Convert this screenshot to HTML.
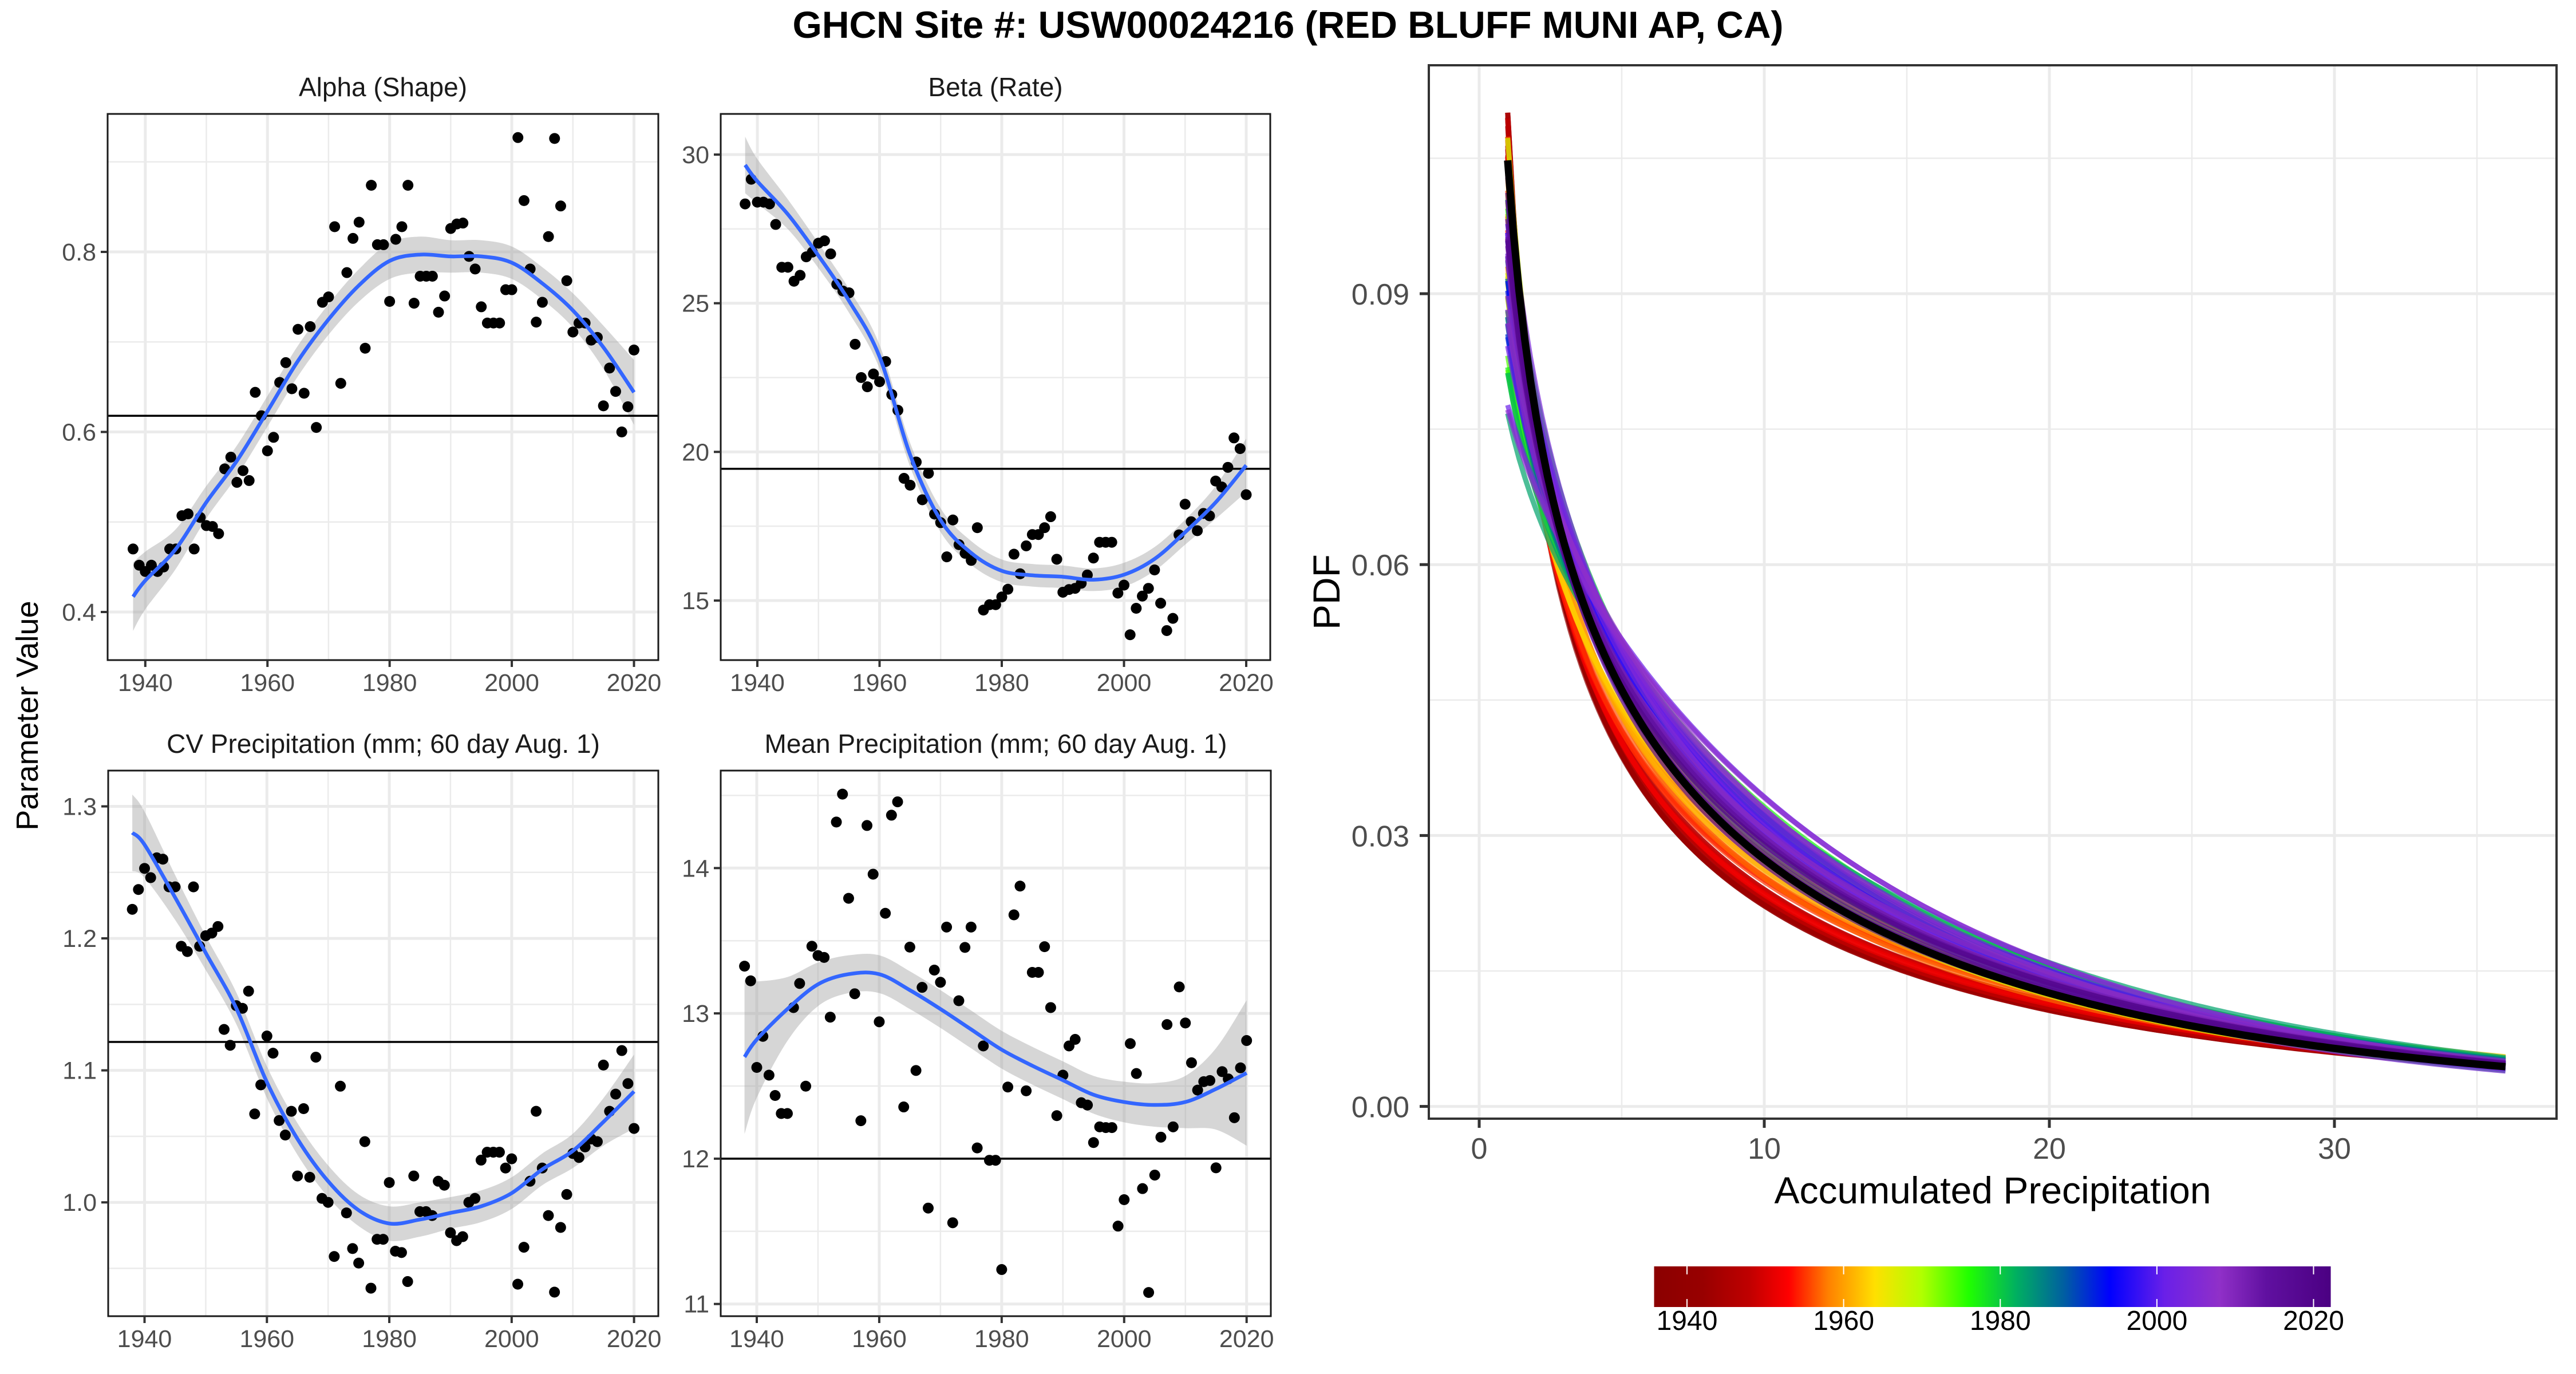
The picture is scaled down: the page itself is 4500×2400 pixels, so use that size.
<!DOCTYPE html>
<html><head><meta charset="utf-8"><style>
html,body{margin:0;padding:0;background:#fff;}
svg{display:block;font-family:"Liberation Sans",sans-serif;}
</style></head><body>
<svg id="fig" width="4500" height="2400" viewBox="0 0 4500 2400" xmlns="http://www.w3.org/2000/svg">
<rect width="4500" height="2400" fill="#fff"/>
<text x="2250" y="66" text-anchor="middle" font-size="66" font-weight="bold" fill="#000">GHCN Site #: USW00024216 (RED BLUFF MUNI AP, CA)</text>
<text transform="translate(66,1250) rotate(-90)" text-anchor="middle" font-size="54" fill="#000">Parameter Value</text>
<g id="panels"></g>
<g id="pdfpanel"></g>
</svg>
<script>
// ---------- DATA ----------
const years = [];
for (let y = 1938; y <= 2020; y++) years.push(y);
const alphaVals = [0.470,0.452,0.445,0.452,0.445,0.450,0.470,0.470,0.507,0.509,0.470,0.505,0.496,0.495,0.487,0.559,0.572,0.544,0.557,0.546,0.644,0.618,0.579,0.594,0.655,0.677,0.648,0.714,0.643,0.717,0.605,0.744,0.750,0.828,0.654,0.777,0.815,0.833,0.693,0.874,0.808,0.808,0.745,0.814,0.828,0.874,0.743,0.773,0.773,0.773,0.733,0.751,0.826,0.831,0.832,0.795,0.781,0.739,0.721,0.721,0.721,0.758,0.758,0.927,0.857,0.781,0.722,0.744,0.817,0.926,0.851,0.768,0.711,0.721,0.721,0.702,0.705,0.629,0.671,0.645,0.600,0.628,0.691];
const betaVals = [28.34,29.17,28.4,28.4,28.34,27.65,26.21,26.21,25.74,25.94,26.56,26.72,27.02,27.1,26.66,25.64,25.41,25.35,23.62,22.5,22.19,22.62,22.36,23.04,21.93,21.4,19.11,18.88,19.66,18.39,19.28,17.91,17.62,16.47,17.71,16.88,16.59,16.35,17.45,14.68,14.86,14.86,15.12,15.38,16.56,15.9,16.84,17.22,17.22,17.45,17.82,16.39,15.28,15.37,15.41,15.58,15.86,16.43,16.96,16.96,16.96,15.25,15.52,13.85,14.74,15.15,15.41,16.03,14.91,13.99,14.4,17.21,18.24,17.65,17.35,17.93,17.85,19.02,18.82,19.48,20.47,20.11,18.56];
const cvVals = [1.222,1.237,1.253,1.246,1.261,1.260,1.239,1.239,1.194,1.190,1.239,1.194,1.202,1.204,1.209,1.131,1.119,1.149,1.147,1.160,1.067,1.089,1.126,1.113,1.062,1.051,1.069,1.020,1.071,1.019,1.110,1.003,1.000,0.959,1.088,0.992,0.965,0.954,1.046,0.935,0.972,0.972,1.015,0.963,0.962,0.940,1.020,0.993,0.993,0.990,1.016,1.013,0.977,0.971,0.974,1.000,1.003,1.032,1.038,1.038,1.038,1.026,1.033,0.938,0.966,1.016,1.069,1.026,0.990,0.932,0.981,1.006,1.037,1.034,1.042,1.048,1.046,1.104,1.069,1.082,1.115,1.090,1.056];
const meanVals = [13.325,13.224,12.628,12.842,12.575,12.435,12.311,12.311,13.040,13.206,12.499,13.462,13.398,13.385,12.974,14.317,14.509,13.792,13.135,12.261,14.293,13.958,12.942,13.689,14.364,14.456,12.356,13.456,12.607,13.179,11.660,13.298,13.214,13.594,11.559,13.087,13.454,13.594,12.074,12.776,11.989,11.989,11.237,12.493,13.678,13.876,12.467,13.282,13.282,13.459,13.040,12.296,12.575,12.776,12.821,12.385,12.369,12.111,12.219,12.214,12.214,11.536,11.718,12.792,12.586,11.794,11.079,11.887,12.148,12.923,12.219,13.182,12.934,12.660,12.472,12.530,12.538,11.937,12.599,12.549,12.282,12.625,12.813];
// loess fits and SE half-widths
const fitYears = [1938,1940,1945,1950,1955,1960,1965,1970,1975,1980,1985,1990,1995,2000,2005,2010,2015,2020];
const alphaFit = [0.417,0.435,0.470,0.522,0.568,0.623,0.679,0.725,0.763,0.790,0.797,0.795,0.795,0.788,0.765,0.735,0.694,0.644];
const alphaSE  = [0.038,0.032,0.022,0.018,0.017,0.017,0.017,0.017,0.018,0.020,0.020,0.018,0.018,0.018,0.018,0.019,0.024,0.036];
const betaFit  = [29.65,29.1,27.99,26.6,25.08,23.2,19.9,17.7,16.6,16.0,15.85,15.8,15.7,15.87,16.4,17.3,18.3,19.55];
const betaSE   = [0.95,0.75,0.5,0.42,0.4,0.4,0.4,0.4,0.4,0.38,0.38,0.38,0.38,0.4,0.4,0.42,0.55,0.9];
const cvFit    = [1.280,1.271,1.231,1.189,1.147,1.091,1.048,1.016,0.994,0.984,0.987,0.992,0.997,1.007,1.025,1.039,1.061,1.084];
const cvSE     = [0.029,0.025,0.017,0.013,0.012,0.012,0.012,0.012,0.012,0.013,0.013,0.012,0.012,0.012,0.012,0.013,0.018,0.028];
const meanFit  = [12.70,12.82,13.03,13.20,13.27,13.27,13.16,13.03,12.89,12.75,12.64,12.54,12.44,12.39,12.37,12.39,12.48,12.59];
const meanSE   = [0.53,0.40,0.22,0.15,0.13,0.13,0.13,0.13,0.13,0.13,0.13,0.13,0.13,0.14,0.15,0.18,0.28,0.50];
// reference horizontal lines (overall parameter values)
const alphaRef = 0.618, betaRef = 19.43, cvRef = 1.1215, meanRef = 12.0;
// tick labels
const yearTicks = [1940,1960,1980,2000,2020];
const alphaTicks = [0.4,0.6,0.8];
const betaTicks = [15,20,25,30];
const cvTicks = [1.0,1.1,1.2,1.3];
const meanTicks = [11,12,13,14];
const pdfXTicks = [0,10,20,30];
const pdfYTicks = [0.00,0.03,0.06,0.09];
const cbarTicks = [1940,1960,1980,2000,2020];
const cbarColors = [[1936,'#8b0000'],[1942,'#980000'],[1948,'#c00000'],[1953,'#ff0000'],[1958,'#ff8000'],[1964,'#ffe000'],[1970,'#b0ff00'],[1976,'#20ff00'],[1982,'#00b060'],[1988,'#0060a0'],[1994,'#0000ff'],[2001,'#6a20e8'],[2008,'#9030c8'],[2014,'#6010a0'],[2023,'#4b0082']];

// ---------- HELPERS ----------
const NS = 'http://www.w3.org/2000/svg';
function mk(tag, attrs, parent) {
  const e = document.createElementNS(NS, tag);
  for (const k in attrs) e.setAttribute(k, attrs[k]);
  parent.appendChild(e);
  return e;
}
function lin(d0, d1, r0, r1) { return v => r0 + (v - d0) * (r1 - r0) / (d1 - d0); }
function smoothPath(pts) {
  let d = 'M' + pts[0][0].toFixed(1) + ',' + pts[0][1].toFixed(1);
  for (let i = 0; i < pts.length - 1; i++) {
    const p0 = pts[Math.max(0, i - 1)], p1 = pts[i], p2 = pts[i + 1], p3 = pts[Math.min(pts.length - 1, i + 2)];
    const c1 = [p1[0] + (p2[0] - p0[0]) / 6, p1[1] + (p2[1] - p0[1]) / 6];
    const c2 = [p2[0] - (p3[0] - p1[0]) / 6, p2[1] - (p3[1] - p1[1]) / 6];
    d += ' C' + c1[0].toFixed(1) + ',' + c1[1].toFixed(1) + ' ' + c2[0].toFixed(1) + ',' + c2[1].toFixed(1) + ' ' + p2[0].toFixed(1) + ',' + p2[1].toFixed(1);
  }
  return d;
}
function smoothSeg(pts) { return smoothPath(pts).slice(1); }

const panelsG = document.getElementById('panels');

function drawPanel(cfg) {
  const g = mk('g', {}, panelsG);
  
  
  const X = lin(1940, 2020, cfg.x1940, cfg.x2020);
  const Y = lin(cfg.yv0, cfg.yv1, cfg.yp0, cfg.yp1);
  const L = cfg.box[0], T = cfg.box[1], R = cfg.box[2], B = cfg.box[3];
  const st = mk('text', { x: (L + R) / 2, y: T - 31, 'text-anchor': 'middle', 'font-size': 46, fill: '#1a1a1a' }, g);
  st.textContent = cfg.title;
  
  
  const clip = mk('clipPath', { id: 'clip-' + cfg.name }, g);
  mk('rect', { x: L, y: T, width: R - L, height: B - T }, clip);
  const inner = mk('g', { 'clip-path': 'url(#clip-' + cfg.name + ')' }, g);
  for (let yr = 1930; yr <= 2030; yr += 20) {
    const l = mk('line', { x1: X(yr), x2: X(yr), y1: T, y2: B, stroke: '#ebebeb', 'stroke-width': 2.5 }, inner);
    
    
  }
  const tk = cfg.ticks, step = tk[1] - tk[0];
  for (let i = -1; i < tk.length; i++) {
    const v = tk[0] + step * (i + 0.5);
    const l = mk('line', { x1: L, x2: R, y1: Y(v), y2: Y(v), stroke: '#ebebeb', 'stroke-width': 2.5 }, inner);
    
    
  }
  yearTicks.forEach(yr => {
    const l = mk('line', { x1: X(yr), x2: X(yr), y1: T, y2: B, stroke: '#ebebeb', 'stroke-width': 5 }, inner);
    
    
  });
  tk.forEach(v => {
    const l = mk('line', { x1: L, x2: R, y1: Y(v), y2: Y(v), stroke: '#ebebeb', 'stroke-width': 5 }, inner);
    
    
  });
  const up = cfg.fitYears.map((yr, i) => [X(yr), Y(cfg.fit[i] + cfg.se[i])]);
  const lo = cfg.fitYears.map((yr, i) => [X(yr), Y(cfg.fit[i] - cfg.se[i])]).reverse();
  const rib = mk('path', { d: smoothPath(up) + ' L' + smoothSeg(lo) + ' Z', fill: '#999999', 'fill-opacity': 0.4 }, inner);
  
  
  const hl = mk('line', { x1: L, x2: R, y1: Y(cfg.ref), y2: Y(cfg.ref), stroke: '#000', 'stroke-width': 3.5 }, inner);
  
  
  cfg.vals.forEach((v, i) => {
    const c = mk('circle', { cx: X(years[i]), cy: Y(v), r: 9.5, fill: '#000' }, inner);
    
    
  });
  const fl = mk('path', { d: smoothPath(cfg.fitYears.map((yr, i) => [X(yr), Y(cfg.fit[i])])), fill: 'none', stroke: '#3366ff', 'stroke-width': 6.5 }, inner);
  
  
  const bd = mk('rect', { x: L, y: T, width: R - L, height: B - T, fill: 'none', stroke: '#1a1a1a', 'stroke-width': 3 }, g);
  
  
  yearTicks.forEach(yr => {
    const t = mk('line', { x1: X(yr), x2: X(yr), y1: B, y2: B + 12, stroke: '#333', 'stroke-width': 4 }, g);
    
    
    const lb = mk('text', { x: X(yr), y: B + 54, 'text-anchor': 'middle', 'font-size': 43, fill: '#4d4d4d' }, g);
    lb.textContent = yr;
    
    
  });
  tk.forEach(v => {
    const t = mk('line', { x1: L - 12, x2: L, y1: Y(v), y2: Y(v), stroke: '#333', 'stroke-width': 4 }, g);
    
    
    const lb = mk('text', { x: L - 20, y: Y(v) + 15, 'text-anchor': 'end', 'font-size': 43, fill: '#4d4d4d' }, g);
    lb.textContent = cfg.fmt(v);
    
    
  });
}

drawPanel({ name: 'alpha', title: 'Alpha (Shape)', box: [188, 199, 1150, 1153], x1940: 253.8, x2020: 1107.5,
  yv0: 0.8, yv1: 0.4, yp0: 440, yp1: 1069, ticks: alphaTicks, vals: alphaVals, fitYears: fitYears, fit: alphaFit, se: alphaSE, ref: alphaRef, fmt: v => v.toFixed(1) });
drawPanel({ name: 'beta', title: 'Beta (Rate)', box: [1259, 199, 2219, 1153], x1940: 1323, x2020: 2177,
  yv0: 30, yv1: 15, yp0: 270, yp1: 1049, ticks: betaTicks, vals: betaVals, fitYears: fitYears, fit: betaFit, se: betaSE, ref: betaRef, fmt: v => String(v) });
drawPanel({ name: 'cv-precipitation', title: 'CV Precipitation (mm; 60 day Aug. 1)', box: [189, 1346, 1150, 2299], x1940: 252.5, x2020: 1107.6,
  yv0: 1.3, yv1: 1.0, yp0: 1408.5, yp1: 2100.2, ticks: cvTicks, vals: cvVals, fitYears: fitYears, fit: cvFit, se: cvSE, ref: cvRef, fmt: v => v.toFixed(1) });
drawPanel({ name: 'mean-precipitation', title: 'Mean Precipitation (mm; 60 day Aug. 1)', box: [1259, 1346, 2220, 2299], x1940: 1322, x2020: 2177.7,
  yv0: 14, yv1: 11, yp0: 1516.3, yp1: 2277.7, ticks: meanTicks, vals: meanVals, fitYears: fitYears, fit: meanFit, se: meanSE, ref: meanRef, fmt: v => String(v) });

// ---------- PDF PANEL ----------
function lngamma(z) {
  const c = [76.18009172947146, -86.50532032941677, 24.01409824083091, -1.231739572450155, 0.1208650973866179e-2, -0.5395239384953e-5];
  let x = z, y = z, tmp = x + 5.5; tmp -= (x + 0.5) * Math.log(tmp);
  let ser = 1.000000000190015;
  for (let j = 0; j < 6; j++) ser += c[j] / ++y;
  return -tmp + Math.log(2.5066282746310005 * ser / x);
}
function gammaPdf(x, a, s) { return Math.exp((a - 1) * Math.log(x) - x / s - lngamma(a) - a * Math.log(s)); }
function hex2rgb(h) { return [parseInt(h.substr(1, 2), 16), parseInt(h.substr(3, 2), 16), parseInt(h.substr(5, 2), 16)]; }
function yearColor(yr) {
  for (let i = 0; i < cbarColors.length - 1; i++) {
    const a = cbarColors[i], b = cbarColors[i + 1];
    if (yr <= b[0]) {
      const t = Math.max(0, (yr - a[0]) / (b[0] - a[0]));
      const ca = hex2rgb(a[1]), cb = hex2rgb(b[1]);
      return 'rgb(' + ca.map((v, k) => Math.round(v + (cb[k] - v) * t)).join(',') + ')';
    }
  }
  return cbarColors[cbarColors.length - 1][1];
}
(function () {
  const g = document.getElementById('pdfpanel');
  
  
  const L = 2496, T = 114, R = 4466, B = 1954;
  const X = lin(0, 10, 2584, 3082);
  const Y = lin(0, 0.09, 1932.6, 513);
  const clip = mk('clipPath', { id: 'clip-pdf' }, g);
  mk('rect', { x: L, y: T, width: R - L, height: B - T }, clip);
  const inner = mk('g', { 'clip-path': 'url(#clip-pdf)' }, g);
  [5, 15, 25, 35].forEach(v => {
    const l = mk('line', { x1: X(v), x2: X(v), y1: T, y2: B, stroke: '#ebebeb', 'stroke-width': 2.5 }, inner);
    
    
  });
  [0.015, 0.045, 0.075, 0.105].forEach(v => {
    const l = mk('line', { x1: L, x2: R, y1: Y(v), y2: Y(v), stroke: '#ebebeb', 'stroke-width': 2.5 }, inner);
    
    
  });
  pdfXTicks.forEach(v => {
    const l = mk('line', { x1: X(v), x2: X(v), y1: T, y2: B, stroke: '#ebebeb', 'stroke-width': 5 }, inner);
    
    
  });
  pdfYTicks.forEach(v => {
    const l = mk('line', { x1: L, x2: R, y1: Y(v), y2: Y(v), stroke: '#ebebeb', 'stroke-width': 5 }, inner);
    
    
  });
  function curve(a, s) {
    const pts = [];
    for (let x = 1; x <= 36.0001; x += 0.2) pts.push(X(x).toFixed(1) + ',' + Y(gammaPdf(x, a, s)).toFixed(1));
    return pts.join(' ');
  }
  years.forEach((yr, i) => {
    const p = mk('polyline', { points: curve(alphaVals[i], betaVals[i]), fill: 'none', stroke: yearColor(yr), 'stroke-width': 9, 'stroke-opacity': 0.7 }, inner);
    
    
  });
  const bl = mk('polyline', { points: curve(alphaRef, betaRef), fill: 'none', stroke: '#000', 'stroke-width': 13 }, inner);
  
  
  const bd = mk('rect', { x: L, y: T, width: R - L, height: B - T, fill: 'none', stroke: '#333', 'stroke-width': 4 }, g);
  
  
  pdfXTicks.forEach(v => {
    const t = mk('line', { x1: X(v), x2: X(v), y1: B, y2: B + 16, stroke: '#333', 'stroke-width': 5 }, g);
    
    
    const lb = mk('text', { x: X(v), y: 2024, 'text-anchor': 'middle', 'font-size': 52, fill: '#4d4d4d' }, g);
    lb.textContent = v;
    
    
  });
  pdfYTicks.forEach(v => {
    const t = mk('line', { x1: L - 16, x2: L, y1: Y(v), y2: Y(v), stroke: '#333', 'stroke-width': 5 }, g);
    
    
    const lb = mk('text', { x: 2462, y: Y(v) + 19, 'text-anchor': 'end', 'font-size': 52, fill: '#4d4d4d' }, g);
    lb.textContent = v.toFixed(2);
    
    
  });
  const xt = mk('text', { x: 3481, y: 2102, 'text-anchor': 'middle', 'font-size': 66, fill: '#000' }, g);
  xt.textContent = 'Accumulated Precipitation';
  
  
  const yt = mk('text', { transform: 'translate(2340,1034) rotate(-90)', 'text-anchor': 'middle', 'font-size': 66, fill: '#000' }, g);
  yt.textContent = 'PDF';
  
  
  const CX = lin(1940, 2020, 2947, 4041.5);
  const defs = mk('defs', {}, g);
  const grad = mk('linearGradient', { id: 'cbar-grad', x1: 0, x2: 1, y1: 0, y2: 0 }, defs);
  const cl = CX(1935.8), cr = CX(2022.2);
  cbarColors.forEach(c => {
    const off = Math.min(1, Math.max(0, (CX(c[0]) - cl) / (cr - cl)));
    mk('stop', { offset: off, 'stop-color': c[1] }, grad);
  });
  const cb = mk('rect', { x: cl, y: 2212, width: cr - cl, height: 71, fill: 'url(#cbar-grad)' }, g);
  
  
  cbarTicks.forEach(v => {
    const t1 = mk('line', { x1: CX(v), x2: CX(v), y1: 2212, y2: 2226, stroke: '#fff', 'stroke-width': 2 }, g);
    
    
    const t2 = mk('line', { x1: CX(v), x2: CX(v), y1: 2269, y2: 2283, stroke: '#fff', 'stroke-width': 2 }, g);
    
    
    const lb = mk('text', { x: CX(v), y: 2323, 'text-anchor': 'middle', 'font-size': 48, fill: '#000' }, g);
    lb.textContent = v;
    
    
  });
})();
</script>
</body></html>
